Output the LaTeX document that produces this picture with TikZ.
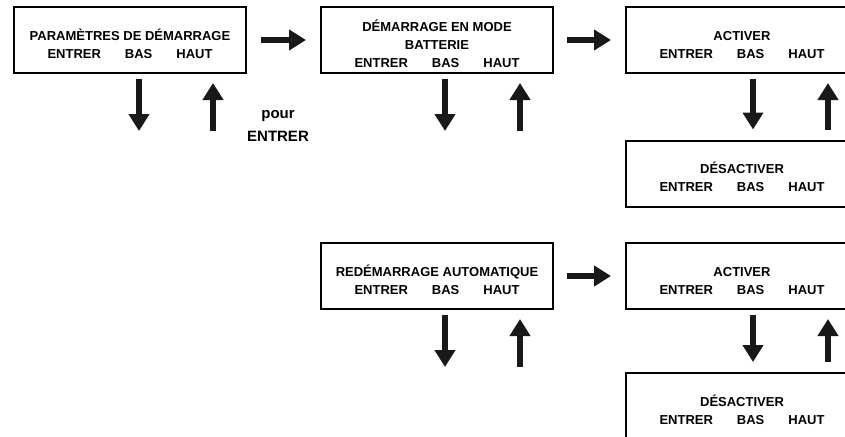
\documentclass[tikz,border=0pt]{standalone}
\usepackage{fontspec}
\setmainfont{Liberation Sans}
\usetikzlibrary{arrows.meta}
\newcommand{\touches}{ENTRER\hspace{24pt}BAS\hspace{24pt}HAUT}
\tikzset{
  menu box/.style={draw=black, line width=2pt, fill=white,
    minimum width=232pt, minimum height=66pt, align=center,
    inner sep=0pt, text height=37pt,
    font=\fontsize{13}{18}\selectfont\bfseries},
  key arrow/.style={-{Triangle[length=17pt,width=20pt]},
    line width=6pt, draw=black!90},
  side label/.style={align=center, font=\fontsize{15}{23}\selectfont\bfseries}
}
\begin{document}
\begin{tikzpicture}[x=1pt,y=-1pt]
  \useasboundingbox (0,0) rectangle (845,436);
  \clip (0,0) rectangle (845,436);

  % demarrage
  \node[menu box] (params) at (130,40) {PARAMÈTRES DE DÉMARRAGE\\\touches};
  \node[menu box, text height=55pt] (batt) at (437,40)
    {DÉMARRAGE EN MODE\\BATTERIE\\\touches};
  \node[menu box] (act1) at (742,40) {ACTIVER\\\touches};
  \node[menu box] (des1) at (742,173.5) {DÉSACTIVER\\\touches};
  \node[side label] (pour) at (278,126) {pour\\ENTRER};

  % redemarrage
  \node[menu box] (auto) at (437,276) {REDÉMARRAGE AUTOMATIQUE\\\touches};
  \node[menu box] (act2) at (742,276) {ACTIVER\\\touches};
  \node[menu box] (des2) at (742,406) {DÉSACTIVER\\\touches};

  \draw[key arrow, shorten <=14pt, shorten >=14pt] (params) -- (batt);
  \draw[key arrow, shorten <=13pt, shorten >=14pt] (batt) -- (act1);
  \draw[key arrow, shorten <=13pt, shorten >=14pt] (auto) -- (act2);

  \foreach \m/\dx/\ux in {params/9/83, batt/8/83, auto/8/83} {
    \coordinate (\m-bas) at ([xshift=\dx pt,yshift=-57pt]\m.south);
    \coordinate (\m-haut) at ([xshift=\ux pt,yshift=-57pt]\m.south);
    \draw[key arrow] ([yshift=-5pt]\m.south -| \m-bas) -- (\m-bas);
    \draw[key arrow] (\m-haut) -- ([yshift=-9pt]\m.south -| \m-haut);
  }

  \foreach \a/\d in {act1/des1, act2/des2} {
    \draw[key arrow, shorten <=5pt, shorten >=10pt]
      ([xshift=11pt]\a.south) -- ([xshift=11pt]\d.north);
    \draw[key arrow, shorten <=10pt, shorten >=9pt]
      ([xshift=86pt]\d.north) -- ([xshift=86pt]\a.south);
  }
\end{tikzpicture}
\end{document}
